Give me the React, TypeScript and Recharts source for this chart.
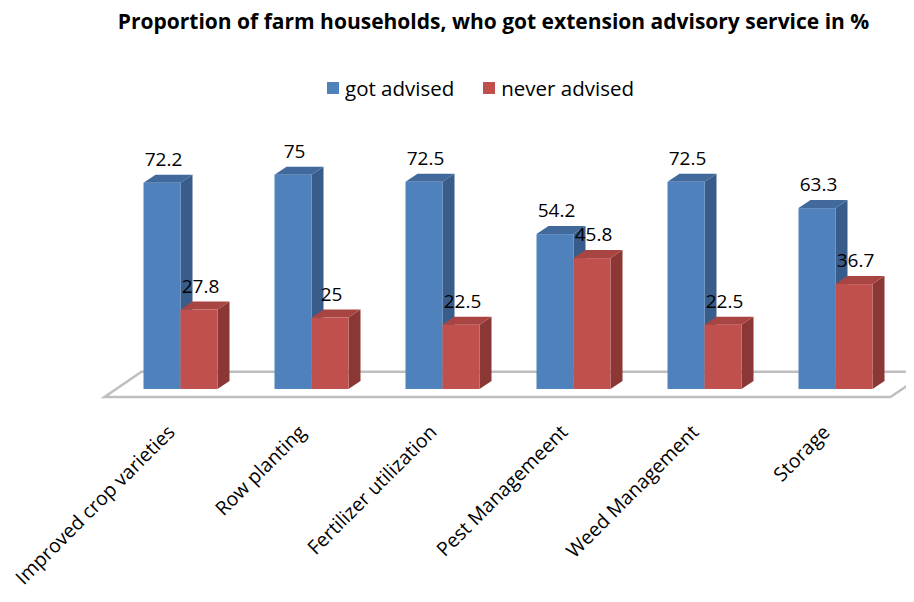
import React from 'react';
import { BarChart, Bar, XAxis, YAxis, Legend, LabelList, ReferenceArea } from 'recharts';

const title = 'Proportion of farm households, who got extension advisory service in %';
const categories = ['Improved crop varieties', 'Row planting', 'Fertilizer utilization', 'Pest Managemeent', 'Weed Management', 'Storage'];
const gotAdvised = [72.2, 75, 72.5, 54.2, 72.5, 63.3];
const neverAdvised = [27.8, 25, 22.5, 45.8, 22.5, 36.7];
const seriesNames = ['got advised', 'never advised'];
const yDomain = [-4, 80];
const floorRange = [-2.8, 6];

const data = categories.map((c, i) => ({ category: c, got: gotAdvised[i], never: neverAdvised[i] }));

const FONT = '"Open Sans", sans-serif';
const DX = 12;
const DY = 8;

const makeShape = (front: string, side: string, top: string) => (props: any) => {
  const { x, y, width, height } = props;
  if (height == null || height <= 0) return null;
  const topPts = `${x},${y} ${x + DX},${y - DY} ${x + width + DX},${y - DY} ${x + width},${y}`;
  const sidePts = `${x + width},${y} ${x + width + DX},${y - DY} ${x + width + DX},${y + height - DY} ${x + width},${y + height}`;
  return (
    <g>
      <polygon points={sidePts} fill={side} />
      <polygon points={topPts} fill={top} />
      <rect x={x} y={y} width={width} height={height} fill={front} />
    </g>
  );
};

const blueShape = makeShape('#4F81BD', '#385D8A', '#41699C');
const redShape = makeShape('#C0504D', '#8A3735', '#A84542');

const ValueLabel = (props: any) => {
  const { x, y, width, value } = props;
  return (
    <text x={x + width / 2 + 1.5} y={y - 17} textAnchor="middle" fontFamily={FONT} fontSize={19} fill="#000">
      {value}
    </text>
  );
};

const Floor = (props: any) => {
  const { x, y, width, height } = props;
  const L = x, R = x + width, top = y, bottom = y + height;
  const pts = `${L - 10},${bottom} ${R - 10},${bottom} ${R + 27},${top} ${L + 27},${top}`;
  return <polygon points={pts} fill="#fff" stroke="#BFBFBF" strokeWidth={2.5} />;
};

const CategoryTick = (props: any) => {
  const { x, y, payload } = props;
  const ax = x - 4;
  const ay = y + 33;
  return (
    <text x={ax} y={ay} textAnchor="end" fontFamily={FONT} fontSize={19.5} fill="#000" transform={`rotate(-45, ${ax}, ${ay})`}>
      {payload.value}
    </text>
  );
};

const LegendContent = (props: any) => {
  const { payload } = props;
  return (
    <div style={{ display: 'flex', alignItems: 'center', paddingLeft: 319, height: 26 }}>
      {(payload || []).map((p: any, i: number) => (
        <div key={i} style={{ display: 'flex', alignItems: 'center', marginRight: 29 }}>
          <div style={{ width: 12, height: 12, background: p.color, marginRight: 6 }} />
          <span style={{ fontFamily: FONT, fontSize: 20.5, color: '#000', lineHeight: '26px' }}>{p.value}</span>
        </div>
      ))}
    </div>
  );
};

export default function App() {
  return (
    <div style={{ position: 'relative', width: 906, height: 594 }}>
      <div
        style={{
          position: 'absolute',
          top: 3,
          left: 485.5,
          transform: 'translateX(-50%)',
          whiteSpace: 'nowrap',
          fontFamily: FONT,
          fontWeight: 700,
          fontSize: 21,
          lineHeight: 1,
          color: '#000',
        }}
      >
        {title}
      </div>
      <BarChart
        width={906}
        height={594}
        data={data}
        margin={{ top: 152.4, right: 13.5, left: 106.5, bottom: 11.6 }}
        barSize={37}
        barGap={0}
        style={{ overflow: 'visible' }}
      >
        <XAxis
          dataKey="category"
          axisLine={false}
          tickLine={false}
          tickSize={0}
          tickMargin={0}
          height={190}
          interval={0}
          tick={<CategoryTick />}
        />
        <YAxis hide domain={yDomain} width={0} allowDataOverflow />
        <Legend
          verticalAlign="middle"
          layout="horizontal"
          content={<LegendContent />}
          wrapperStyle={{ top: 67, left: 0, width: 906, height: 26 }}
        />
        <ReferenceArea y1={floorRange[0]} y2={floorRange[1]} shape={<Floor />} ifOverflow="visible" />
        <Bar dataKey="got" name={seriesNames[0]} fill="#4F81BD" shape={blueShape} isAnimationActive={false}>
          <LabelList dataKey="got" content={<ValueLabel />} />
        </Bar>
        <Bar dataKey="never" name={seriesNames[1]} fill="#C0504D" shape={redShape} isAnimationActive={false}>
          <LabelList dataKey="never" content={<ValueLabel />} />
        </Bar>
      </BarChart>
    </div>
  );
}
